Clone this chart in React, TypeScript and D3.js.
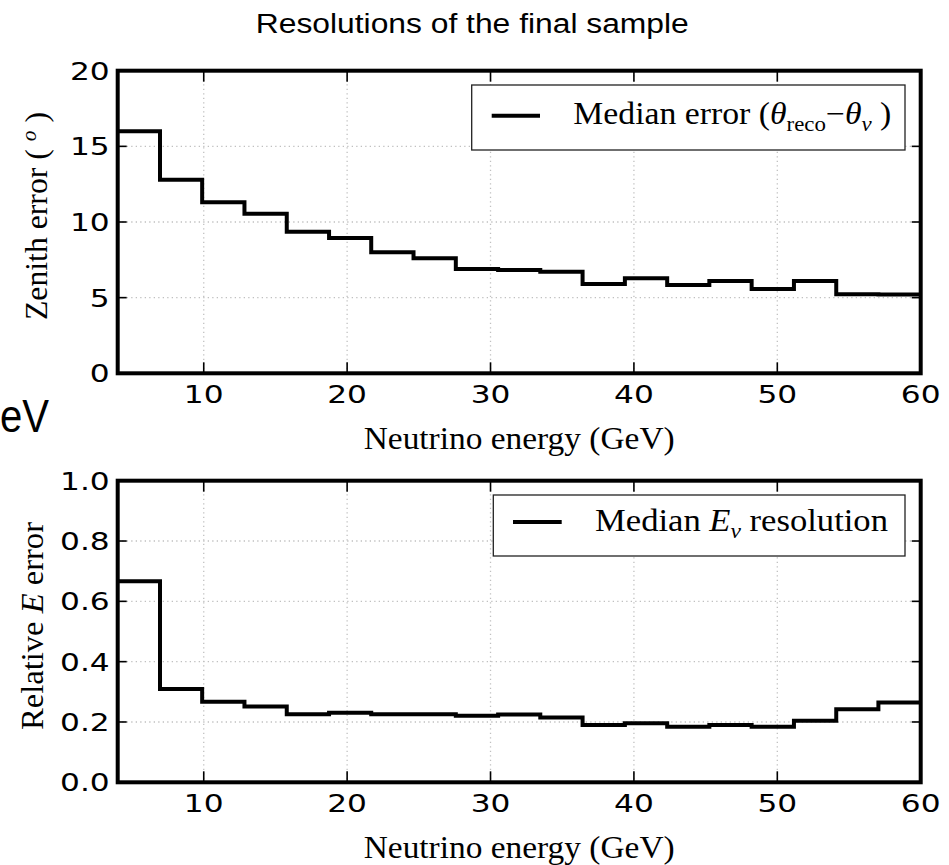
import React from "react";
import * as d3 from "d3";

const binEdges = [4, 6.95, 9.89, 12.84, 15.79, 18.74, 21.68, 24.63, 27.58, 30.53, 33.47, 36.42, 39.37, 42.32, 45.26, 48.21, 51.16, 54.11, 57.05, 60];
const zenithError = [16.0, 12.8, 11.3, 10.55, 9.35, 8.95, 8.0, 7.6, 6.9, 6.82, 6.72, 5.9, 6.28, 5.84, 6.1, 5.57, 6.1, 5.22, 5.2];
const energyRes = [0.667, 0.309, 0.267, 0.251, 0.226, 0.231, 0.226, 0.226, 0.221, 0.225, 0.215, 0.19, 0.196, 0.184, 0.19, 0.184, 0.204, 0.242, 0.265];
const xTicks = [10, 20, 30, 40, 50, 60];
const zenithTicks = [0, 5, 10, 15, 20];
const energyTicks = [0, 0.2, 0.4, 0.6, 0.8, 1.0];

const W = 949, H = 865;
const X0 = 117.7, X1 = 920.7;
const SERIF = "'Liberation Serif', 'DejaVu Serif', serif";
const SANS = "'DejaVu Sans', sans-serif";

const x = d3.scaleLinear().domain([4, 60]).range([X0, X1]);

type PanelProps = {
  id: string;
  top: number;
  bottom: number;
  domain: [number, number];
  ticks: number[];
  fmt: (v: number) => string;
  values: number[];
};

function Panel({ id, top, bottom, domain, ticks, fmt, values }: PanelProps) {
  const y = d3.scaleLinear().domain(domain).range([bottom, top]);
  const pts: [number, number][] = binEdges.map((e, i) => [e, values[Math.min(i, values.length - 1)]]);
  const line = d3.line<[number, number]>().x(d => x(d[0])).y(d => y(d[1])).curve(d3.curveStepAfter);
  const grid = "#c0c0c0";
  return (
    <g>
      <defs>
        <clipPath id={id}>
          <rect x={X0} y={top} width={X1 - X0} height={bottom - top} />
        </clipPath>
      </defs>
      {xTicks.filter(t => t < 60).map(t => (
        <line key={"gx" + t} x1={x(t)} x2={x(t)} y1={top} y2={bottom} stroke={grid} strokeWidth={1.3} strokeDasharray="1.3,3.2" />
      ))}
      {ticks.slice(1, -1).map(t => (
        <line key={"gy" + t} x1={X0} x2={X1} y1={y(t)} y2={y(t)} stroke={grid} strokeWidth={1.3} strokeDasharray="1.3,3.2" />
      ))}
      <path d={line(pts) || ""} fill="none" stroke="#000" strokeWidth={4} clipPath={`url(#${id})`} />
      {xTicks.map(t => (
        <g key={"tx" + t}>
          <line x1={x(t)} x2={x(t)} y1={bottom} y2={bottom - 11} stroke="#000" strokeWidth={1.6} />
          <line x1={x(t)} x2={x(t)} y1={top} y2={top + 11} stroke="#000" strokeWidth={1.6} />
          <text transform={`translate(${x(t)},${bottom + 30}) scale(1.25,1)`} textAnchor="middle" fontFamily={SANS} fontSize={25} fill="#000">{t}</text>
        </g>
      ))}
      {ticks.map(t => (
        <g key={"ty" + t}>
          <line x1={X0} x2={X0 + 9} y1={y(t)} y2={y(t)} stroke="#000" strokeWidth={1.6} />
          <line x1={X1} x2={X1 - 9} y1={y(t)} y2={y(t)} stroke="#000" strokeWidth={1.6} />
          <text transform={`translate(${X0 - 8},${y(t) + 9}) scale(1.25,1)`} textAnchor="end" fontFamily={SANS} fontSize={25} fill="#000">{fmt(t)}</text>
        </g>
      ))}
      <rect x={X0} y={top} width={X1 - X0} height={bottom - top} fill="none" stroke="#000" strokeWidth={4} />
      <text x={(X0 + X1) / 2} y={bottom + 76} textAnchor="middle" fontFamily={SERIF} fontSize={31} textLength={311} lengthAdjust="spacingAndGlyphs" fill="#000">Neutrino energy (GeV)</text>
    </g>
  );
}

export default function App() {
  const topT = 70.7, topB = 373.3, botT = 480.7, botB = 782.3;
  return (
    <svg width={W} height={H} style={{ position: "absolute", left: 0, top: 0, background: "#fff" }}>
      <rect x={0} y={0} width={W} height={H} fill="#fff" />
      <text x={472.3} y={33.3} textAnchor="middle" fontFamily="'Liberation Sans', Arial, sans-serif" fontSize={27} textLength={433} lengthAdjust="spacingAndGlyphs" fill="#000">Resolutions of the final sample</text>
      <text x={0} y={431.7} fontFamily="'Liberation Sans', Arial, sans-serif" fontSize={46} textLength={49} lengthAdjust="spacingAndGlyphs" fill="#000">eV</text>

      <Panel id="clipTop" top={topT} bottom={topB} domain={[0, 20]} ticks={zenithTicks} fmt={v => String(v)} values={zenithError} />
      <Panel id="clipBot" top={botT} bottom={botB} domain={[0, 1]} ticks={energyTicks} fmt={v => v.toFixed(1)} values={energyRes} />

      {/* Y labels */}
      <text transform="translate(46.7,216) rotate(-90)" textAnchor="middle" fontFamily={SERIF} fontSize={31} textLength={208} lengthAdjust="spacingAndGlyphs" fill="#000">
        Zenith error ( <tspan fontStyle="italic" fontSize={21} dy={-11}>o</tspan><tspan dy={11}> )</tspan>
      </text>
      <text transform="translate(43.3,626) rotate(-90)" textAnchor="middle" fontFamily={SERIF} fontSize={31} textLength={208} lengthAdjust="spacingAndGlyphs" fill="#000">
        Relative <tspan fontStyle="italic">E</tspan> error
      </text>

      {/* Legend top */}
      <rect x={471.7} y={85} width={905 - 471.7} height={65} fill="#fff" stroke="#222" strokeWidth={1.3} />
      <line x1={491.7} x2={540} y1={115.7} y2={115.7} stroke="#000" strokeWidth={4} />
      <text x={573.3} y={124.3} fontFamily={SERIF} fontSize={31} textLength={318} lengthAdjust="spacingAndGlyphs" fill="#000">
        Median error (<tspan fontStyle="italic">θ</tspan><tspan fontSize={21} dy={7}>reco</tspan><tspan dy={-7}>−</tspan><tspan fontStyle="italic">θ</tspan><tspan fontStyle="italic" fontSize={21} dy={7}>ν</tspan><tspan dy={-7}> )</tspan>
      </text>

      {/* Legend bottom */}
      <rect x={493.3} y={495} width={905 - 493.3} height={61} fill="#fff" stroke="#222" strokeWidth={1.3} />
      <line x1={513} x2={561.7} y1={522} y2={522} stroke="#000" strokeWidth={4} />
      <text x={595} y={530.7} fontFamily={SERIF} fontSize={31} textLength={293} lengthAdjust="spacingAndGlyphs" fill="#000">
        Median <tspan fontStyle="italic">E</tspan><tspan fontStyle="italic" fontSize={21} dy={7}>ν</tspan><tspan dy={-7}> resolution</tspan>
      </text>
    </svg>
  );
}
